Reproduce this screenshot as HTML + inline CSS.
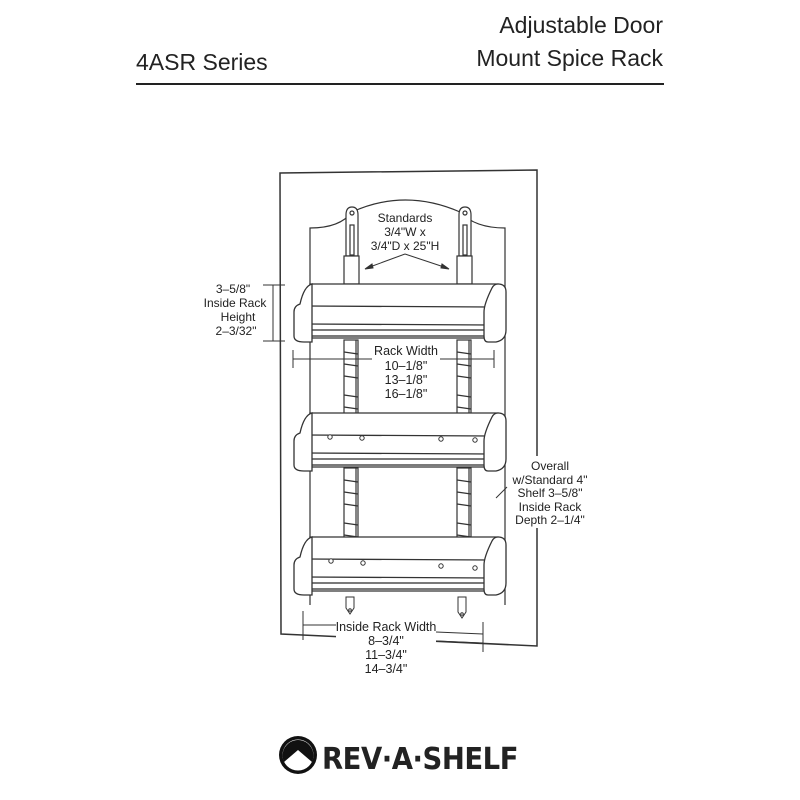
<!DOCTYPE html>
<html><head><style>
html,body{margin:0;padding:0;background:#fff;}
svg{display:block;}
text{font-family:"Liberation Sans","DejaVu Sans",sans-serif;fill:#222;}
</style></head><body>
<svg width="800" height="800" viewBox="0 0 800 800" xmlns="http://www.w3.org/2000/svg">
<defs>
<g id="shelf" fill="#fff" stroke="#333" stroke-width="1.3">
  <path d="M18 0 L206 0 L206 54 L18 54 Z"/>
  <line x1="14" y1="22" x2="198" y2="23"/>
  <line x1="14" y1="40" x2="198" y2="41"/>
  <rect x="16" y="46" width="182" height="6"/>
  <path d="M20 0 Q12 2 8 20 Q2 22 2 28 L2 52 Q2 58 12 58 L20 58 Z"/>
  <path d="M206 0 Q214 0 214 8 L214 46 Q214 56 204 58 L196 58 Q192 58 192 52 L192 28 Q192 20 200 4 Q202 0 206 0 Z"/>
</g>
<g id="std" fill="#fff" stroke="#333" stroke-width="1.2">
  <rect x="-7" y="0" width="14" height="76"/>
  <line x1="-7" y1="12" x2="7" y2="14"/><line x1="-7" y1="24" x2="7" y2="26"/>
  <line x1="-7" y1="36" x2="7" y2="38"/><line x1="-7" y1="55" x2="7" y2="57"/>
  <line x1="-7" y1="67" x2="7" y2="69"/>
  <line x1="5" y1="0" x2="5" y2="76"/>
</g>
</defs>

<text x="136" y="70" font-size="23">4ASR Series</text>
<text x="663" y="33" font-size="23" text-anchor="end">Adjustable Door</text>
<text x="663" y="66" font-size="23" text-anchor="end">Mount Spice Rack</text>
<line x1="136" y1="84" x2="664" y2="84" stroke="#222" stroke-width="2"/>

<!-- door -->
<path d="M280 173 L537 170 L537 646 L281 634 Z" fill="#fff" stroke="#333" stroke-width="1.5"/>
<!-- back panel -->
<path d="M310 605 L310 228 Q340 228 352 212 Q405 188 460 212 Q475 228 505 228 L505 605" fill="none" stroke="#333" stroke-width="1.2"/>

<!-- standards -->
<g stroke="#333" stroke-width="1.2" fill="#fff">
  <path d="M346 256 L346 215 Q346 207 352 207 Q358 207 358 215 L358 256 Z"/>
  <circle cx="352" cy="213" r="2"/>
  <rect x="350" y="225" width="4" height="30"/>
  <rect x="344" y="256" width="15" height="28"/>
  <path d="M459 256 L459 215 Q459 207 465 207 Q471 207 471 215 L471 256 Z"/>
  <circle cx="465" cy="213" r="2"/>
  <rect x="463" y="225" width="4" height="30"/>
  <rect x="457" y="256" width="15" height="28"/>
</g>
<use href="#std" x="351" y="340"/>
<use href="#std" x="464" y="340"/>
<use href="#std" x="351" y="468"/>
<use href="#std" x="464" y="468"/>

<!-- shelves -->
<use href="#shelf" x="292" y="284"/>
<use href="#shelf" x="292" y="413"/>
<use href="#shelf" x="292" y="537"/>
<g fill="#fff" stroke="#333" stroke-width="1">
  <circle cx="330" cy="437" r="2.2"/><circle cx="362" cy="438" r="2.2"/><circle cx="441" cy="439" r="2.2"/><circle cx="475" cy="440" r="2.2"/>
  <circle cx="331" cy="561" r="2.2"/><circle cx="363" cy="563" r="2.2"/><circle cx="441" cy="566" r="2.2"/><circle cx="475" cy="568" r="2.2"/>
  <path d="M346 597 L346 608 L350 614 L354 608 L354 597 Z"/><circle cx="350" cy="610" r="1.3"/>
  <path d="M458 597 L458 612 L462 618 L466 612 L466 597 Z"/><circle cx="462" cy="614" r="1.3"/>
</g>

<!-- standards label -->
<text x="405" y="222" font-size="12" text-anchor="middle">Standards</text>
<text x="405" y="236" font-size="12" text-anchor="middle">3/4"W x</text>
<text x="405" y="250" font-size="12" text-anchor="middle">3/4"D x 25"H</text>
<g stroke="#333" stroke-width="1" fill="#333">
  <line x1="405" y1="254" x2="367" y2="268"/><line x1="405" y1="254" x2="447" y2="268"/>
  <path d="M365 269 L372 264 L373 268 Z"/><path d="M449 269 L442 264 L441 268 Z"/>
</g>

<!-- height dim -->
<g stroke="#333" stroke-width="1">
  <line x1="263" y1="285" x2="285" y2="285"/><line x1="263" y1="341" x2="285" y2="341"/>
  <line x1="273" y1="285" x2="273" y2="341"/>
</g>
<text x="233" y="293" font-size="12" text-anchor="middle">3–5/8"</text>
<text x="235" y="307" font-size="12" text-anchor="middle">Inside Rack</text>
<text x="238" y="321" font-size="12" text-anchor="middle">Height</text>
<text x="236" y="335" font-size="12" text-anchor="middle">2–3/32"</text>

<!-- rack width -->
<g stroke="#333" stroke-width="1">
  <line x1="293" y1="350" x2="293" y2="368"/><line x1="494" y1="350" x2="494" y2="368"/>
  <line x1="293" y1="359" x2="373" y2="359"/><line x1="438" y1="359" x2="494" y2="359"/>
</g>
<rect x="372" y="343" width="68" height="58" fill="#fff"/>
<text x="406" y="355" font-size="12.5" text-anchor="middle">Rack Width</text>
<text x="406" y="370" font-size="12.5" text-anchor="middle">10–1/8"</text>
<text x="406" y="384" font-size="12.5" text-anchor="middle">13–1/8"</text>
<text x="406" y="398" font-size="12.5" text-anchor="middle">16–1/8"</text>

<!-- overall -->
<g stroke="#333" stroke-width="1">
  <line x1="505" y1="476" x2="505" y2="510"/><line x1="496" y1="498" x2="507" y2="487"/>
</g>
<rect x="508" y="456" width="86" height="72" fill="#fff"/>
<text x="550" y="470" font-size="12" text-anchor="middle">Overall</text>
<text x="550" y="484" font-size="12" text-anchor="middle">w/Standard 4"</text>
<text x="550" y="497" font-size="12" text-anchor="middle">Shelf 3–5/8"</text>
<text x="550" y="511" font-size="12" text-anchor="middle">Inside Rack</text>
<text x="550" y="524" font-size="12" text-anchor="middle">Depth 2–1/4"</text>

<!-- inside rack width -->
<g stroke="#333" stroke-width="1">
  <line x1="303" y1="611" x2="303" y2="640"/><line x1="483" y1="622" x2="483" y2="652"/>
  <line x1="303" y1="625" x2="336" y2="625"/><line x1="436" y1="632" x2="483" y2="634"/>
  <line x1="436" y1="641" x2="483" y2="643"/>
</g>
<rect x="336" y="619" width="100" height="58" fill="#fff"/>
<text x="386" y="631" font-size="12.5" text-anchor="middle">Inside Rack Width</text>
<text x="386" y="645" font-size="12.5" text-anchor="middle">8–3/4"</text>
<text x="386" y="659" font-size="12.5" text-anchor="middle">11–3/4"</text>
<text x="386" y="673" font-size="12.5" text-anchor="middle">14–3/4"</text>

<!-- logo -->
<circle cx="298" cy="755" r="19" fill="#111"/>
<circle cx="298" cy="755" r="15.5" fill="#fff"/>
<path d="M298 740 A15.5 15.5 0 0 0 284 762 L298 750 L312 762 A15.5 15.5 0 0 0 298 740 Z" fill="#111"/>
<text x="322" y="769" font-size="30" font-weight="bold" letter-spacing="-0.5" style="font-family:'DejaVu Sans','Liberation Sans',sans-serif;" fill="#111" textLength="196" lengthAdjust="spacingAndGlyphs">REV·A·SHELF</text>
</svg>
</body></html>
